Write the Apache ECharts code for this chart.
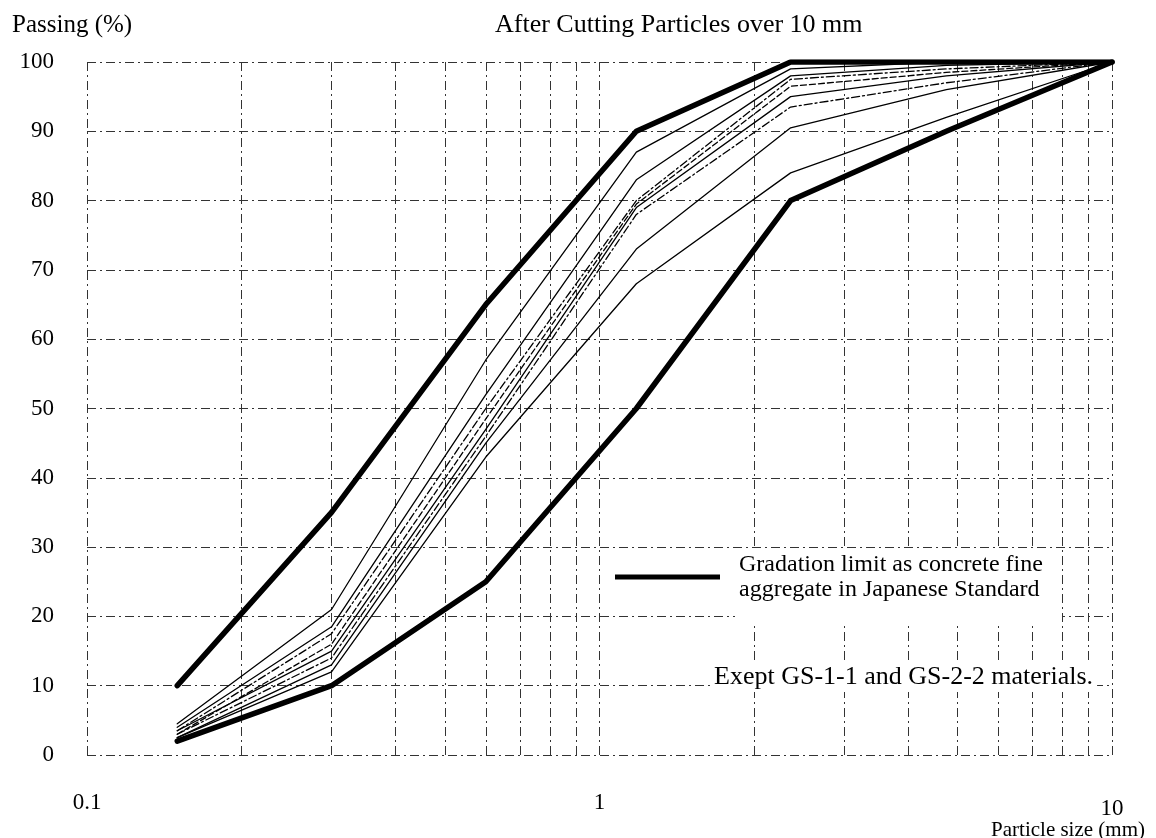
<!DOCTYPE html>
<html>
<head>
<meta charset="utf-8">
<style>
  html, body { margin: 0; padding: 0; background: #fff; }
  #chart { width: 1156px; height: 838px; }
</style>
</head>
<body>
<div id="chart"></div>
<script src="https://cdn.jsdelivr.net/npm/echarts@6/dist/echarts.min.js"></script>
<script>
// sieve sizes (mm) and passing percentages
const sieveSizes = [0.15, 0.3, 0.6, 1.18, 2.36, 4.75, 10]
const upperLimit = [10, 35, 65, 90, 100, 100, 100]
const lowerLimit = [2, 10, 25, 50, 80, 90, 100]

const sample1 = [4.5, 21, 57, 87, 99, 100, 100]
const sample2 = [4, 18.5, 52, 83, 98, 99.5, 100]
const sample3 = [3.5, 17.5, 50, 80, 97.5, 99, 100]
const sample4 = [3, 16, 48.5, 79.5, 96.5, 98.5, 100]
const sample5 = [3.5, 15, 47, 79, 95, 98, 100]
const sample6 = [3, 14, 46, 78, 93.5, 97, 100]
const sample7 = [2.5, 13, 45, 73, 90.5, 96, 100]
const sample8 = [2.5, 12, 43, 68, 84, 92, 100]

const minorGridX = [0.2, 0.3, 0.4, 0.5, 0.6, 0.7, 0.8, 0.9, 2, 3, 4, 5, 6, 7, 8, 9]

const limitName = 'Gradation limit as concrete fine aggregate in Japanese Standard'
const serif = '"Liberation Serif", "DejaVu Serif", serif'
const gridLine = { color: '#333', width: 1, type: [9, 4, 2, 4] }

const chart = echarts.init(document.getElementById('chart'))

function lineSeries(name, values, width, type) {
  return {
    name,
    type: 'line',
    data: sieveSizes.map((x, i) => [x, values[i]]),
    symbol: 'none',
    silent: true,
    z: width > 2 ? 4 : 3,
    lineStyle: { color: '#000', width, type, join: 'round', cap: 'round' },
    itemStyle: { color: '#000' }
  }
}

chart.setOption({
  animation: false,
  backgroundColor: '#fff',
  title: [
    { text: 'Passing (%)', left: 7, top: 8, textStyle: { fontFamily: serif, fontSize: 25, fontWeight: 'normal', color: '#000' } },
    { text: 'After Cutting Particles over 10 mm', left: 490, top: 7, textStyle: { fontFamily: serif, fontSize: 26, fontWeight: 'normal', color: '#000' } },
    { text: 'Particle size (mm)', right: 6, top: 815, textStyle: { fontFamily: serif, fontSize: 21, fontWeight: 'normal', color: '#000' } }
  ],
  grid: { left: 87, right: 44, top: 62, bottom: 83 },
  legend: {
    left: 615,
    top: 552,
    padding: 0,
    itemWidth: 105,
    itemHeight: 5,
    selectedMode: false,
    data: [{ name: limitName, icon: 'rect' }],
    formatter: () => 'Gradation limit as concrete fine\naggregate in Japanese Standard',
    textStyle: { fontFamily: serif, fontSize: 24, lineHeight: 25, color: '#000', padding: [0, 0, 0, 14] }
  },
  xAxis: {
    type: 'log',
    logBase: 10,
    min: 0.1,
    max: 10,
    axisLine: { show: false },
    axisTick: { show: false },
    splitLine: { show: true, lineStyle: gridLine },
    axisLabel: {
      margin: 36,
      formatter: v => (v >= 10 ? '{b|' + v + '}' : '{a|' + v + '}'),
      rich: {
        a: { fontFamily: serif, fontSize: 23, color: '#000' },
        b: { fontFamily: serif, fontSize: 23, color: '#000', padding: [6, 0, 0, 0] }
      }
    }
  },
  yAxis: {
    type: 'value',
    min: 0,
    max: 100,
    interval: 10,
    axisLine: { show: false },
    axisTick: { show: false },
    splitLine: { show: true, lineStyle: gridLine },
    axisLabel: { margin: 33, fontFamily: serif, fontSize: 23, color: '#000' }
  },
  graphic: [
    { type: 'rect', left: 735, top: 548, z: 2, silent: true, shape: { width: 327, height: 74 }, style: { fill: '#fff' } },
    {
      type: 'text', left: 710, top: 662, z: 2, silent: true,
      style: { text: 'Exept GS-1-1 and GS-2-2 materials.', font: '26px ' + serif, fill: '#000', backgroundColor: '#fff', padding: [2, 4] }
    }
  ],
  series: [
    {
      name: 'minor grid',
      type: 'line',
      data: [],
      z: 0,
      silent: true,
      markLine: {
        z: 1,
        silent: true,
        symbol: 'none',
        label: { show: false },
        lineStyle: gridLine,
        data: minorGridX.map(v => ({ xAxis: v }))
      }
    },
    lineSeries('s1', sample1, 1.3, 'solid'),
    lineSeries('s2', sample2, 1.3, 'solid'),
    lineSeries('s3', sample3, 1.3, [8, 3, 2, 3]),
    lineSeries('s4', sample4, 1.3, [6, 3]),
    lineSeries('s5', sample5, 1.3, 'solid'),
    lineSeries('s6', sample6, 1.3, [8, 3, 2, 3]),
    lineSeries('s7', sample7, 1.3, 'solid'),
    lineSeries('s8', sample8, 1.3, 'solid'),
    lineSeries(limitName, upperLimit, 5.5, 'solid'),
    lineSeries(limitName, lowerLimit, 5.5, 'solid')
  ]
})
</script>
</body>
</html>
